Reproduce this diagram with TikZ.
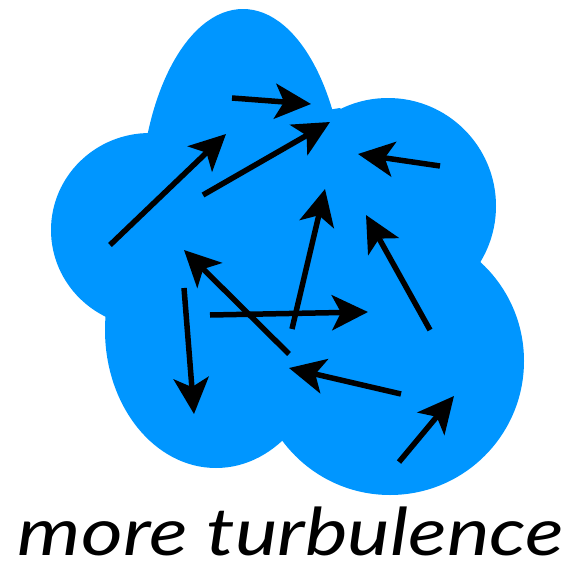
\documentclass[tikz,border=0pt]{standalone}
\usepackage{fontspec}
\setmainfont{Lato}
\usetikzlibrary{arrows.meta}
\definecolor{cloudblue}{RGB}{0,150,255}
\tikzset{
  lobe/.style={fill=cloudblue, draw=none},
  flow/.style={line width=5.5pt, -{Stealth[length=36pt, width=35pt, inset=9pt]}, black},
  caption/.style={font=\fontsize{66}{66}\selectfont\itshape, inner sep=0pt, anchor=base}
}
\begin{document}
\begin{tikzpicture}[x=1pt, y=-1pt]
\useasboundingbox (0,0) rectangle (571,570);
% cloud lobes
\fill[lobe] (243,210) ellipse [x radius=103, y radius=201];
\fill[lobe] (150,230) ellipse [x radius=99, y radius=97];
\fill[lobe] (216,330) ellipse [x radius=111, y radius=138];
\fill[lobe] (388,206) circle [radius=108];
\fill[lobe] (390,361) circle [radius=134];
\fill[lobe] (143,140) -- (340,108) -- (477,259) -- (281,441) -- (106,314) -- cycle;
% arrows
\foreach \n/\sx/\sy/\ex/\ey in {
  1/232/98/311/104,
  2/110/245/226/134,
  3/203/195/330/122,
  4/440/166/358/154,
  5/292/329/325/189,
  6/430/330/366/215,
  7/289/354/184/250,
  8/184/288/194/414,
  9/210/315/368/312,
  10/401/394/289/368,
  11/399/462/454/396}{
  \coordinate (s\n) at (\sx,\sy);
  \coordinate (e\n) at (\ex,\ey);
  \draw[flow] (s\n) -- (e\n);
}
\node[caption] (cap) at (291,555) {\scalebox{1.22}[1]{more turbulence}};
\end{tikzpicture}
\end{document}
